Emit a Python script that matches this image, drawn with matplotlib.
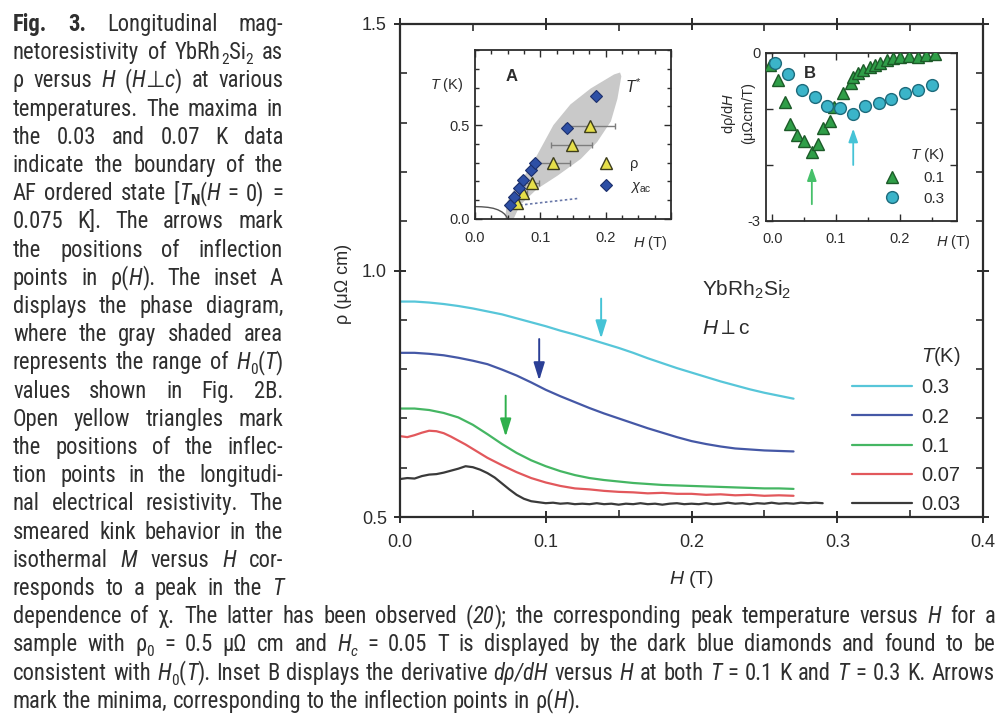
import re
import matplotlib
matplotlib.use("Agg")
import matplotlib.pyplot as plt
from matplotlib import font_manager
from matplotlib.ticker import MultipleLocator, FixedLocator, FixedFormatter, FormatStrFormatter
from matplotlib.transforms import IdentityTransform

# ---------------------------------------------------------------- data
# rho(H) curves, H in tesla, rho in micro-ohm cm
H_SMOOTH = [0.00, 0.01, 0.02, 0.03, 0.04, 0.05, 0.06, 0.07, 0.08, 0.09, 0.10,
            0.11, 0.12, 0.13, 0.14, 0.15, 0.16, 0.17, 0.18, 0.19, 0.20, 0.21,
            0.22, 0.23, 0.24, 0.25, 0.26, 0.27]
RHO_03 = [0.937, 0.937, 0.935, 0.932, 0.928, 0.923, 0.917, 0.911, 0.903, 0.895,
          0.887, 0.878, 0.870, 0.861, 0.852, 0.843, 0.833, 0.822, 0.812, 0.802,
          0.793, 0.784, 0.775, 0.767, 0.759, 0.752, 0.746, 0.740]
RHO_02 = [0.833, 0.833, 0.831, 0.828, 0.823, 0.817, 0.810, 0.799, 0.787, 0.773,
          0.758, 0.745, 0.733, 0.721, 0.710, 0.700, 0.690, 0.680, 0.671, 0.662,
          0.654, 0.648, 0.643, 0.639, 0.637, 0.635, 0.634, 0.633]
RHO_01 = [0.720, 0.720, 0.717, 0.711, 0.702, 0.687, 0.668, 0.648, 0.630, 0.615,
          0.603, 0.593, 0.585, 0.579, 0.575, 0.572, 0.569, 0.567, 0.565, 0.564,
          0.563, 0.562, 0.561, 0.560, 0.559, 0.558, 0.558, 0.557]
H_007 = [0.000, 0.005, 0.010, 0.015, 0.020, 0.025, 0.030, 0.035, 0.040, 0.045,
         0.050, 0.060, 0.070, 0.080, 0.090, 0.100, 0.110, 0.120, 0.130, 0.140,
         0.150, 0.160, 0.170, 0.180, 0.190, 0.200, 0.210, 0.220, 0.230, 0.240,
         0.250, 0.260, 0.270]
RHO_007 = [0.664, 0.662, 0.666, 0.671, 0.675, 0.674, 0.670, 0.663, 0.655, 0.647,
           0.638, 0.620, 0.605, 0.591, 0.579, 0.570, 0.563, 0.558, 0.556, 0.553,
           0.551, 0.550, 0.548, 0.549, 0.547, 0.547, 0.545, 0.546, 0.544, 0.545,
           0.543, 0.544, 0.543]
H_003 = [0.000, 0.005, 0.010, 0.015, 0.020, 0.025, 0.030, 0.035, 0.040, 0.045,
         0.050, 0.055, 0.060, 0.065, 0.070, 0.075, 0.080, 0.085, 0.090, 0.095,
         0.100, 0.105, 0.110, 0.115, 0.120, 0.125, 0.130, 0.135, 0.140, 0.145,
         0.150, 0.155, 0.160, 0.165, 0.170, 0.175, 0.180, 0.185, 0.190, 0.195,
         0.200, 0.205, 0.210, 0.215, 0.220, 0.225, 0.230, 0.235, 0.240, 0.245,
         0.250, 0.255, 0.260, 0.265, 0.270, 0.275, 0.280, 0.285, 0.290]
RHO_003 = [0.577, 0.579, 0.578, 0.583, 0.586, 0.587, 0.590, 0.594, 0.598, 0.603,
           0.601, 0.596, 0.589, 0.580, 0.568, 0.556, 0.545, 0.537, 0.532, 0.530,
           0.528, 0.529, 0.527, 0.528, 0.526, 0.527, 0.526, 0.528, 0.526, 0.527,
           0.525, 0.527, 0.526, 0.528, 0.526, 0.527, 0.525, 0.527, 0.528, 0.526,
           0.527, 0.526, 0.528, 0.526, 0.527, 0.529, 0.527, 0.528, 0.526, 0.528,
           0.527, 0.529, 0.527, 0.528, 0.527, 0.529, 0.528, 0.529, 0.528]

TEMPS = ["0.3", "0.2", "0.1", "0.07", "0.03"]
COLORS = ["#57c6d9", "#4558a6", "#45b663", "#e2585c", "#3a3a3a"]

# inflection-point arrows (H, tail rho, tip rho)
ARROW_H = [0.138, 0.0955, 0.0725]
ARROW_TAIL = [0.943, 0.861, 0.746]
ARROW_TIP = [0.862, 0.777, 0.663]
ARROW_COLORS = ["#45c3d6", "#2b3f96", "#2fb04c"]

# inset A: phase diagram
CHI_H = [0.054, 0.059, 0.067, 0.074, 0.085, 0.092, 0.141, 0.185]
CHI_T = [0.074, 0.119, 0.163, 0.207, 0.260, 0.296, 0.485, 0.655]
INF_H = [0.064, 0.074, 0.087, 0.120, 0.148, 0.176]
INF_T = [0.083, 0.137, 0.190, 0.298, 0.393, 0.495]
INF_ERR = [0.004, 0.006, 0.011, 0.026, 0.031, 0.038]
BAND_H = [0.046, 0.049, 0.060, 0.074, 0.095, 0.120, 0.146, 0.177, 0.213, 0.222,
          0.224, 0.218, 0.208, 0.187, 0.162, 0.126, 0.095, 0.069, 0.059]
BAND_T = [0.000, 0.090, 0.160, 0.220, 0.340, 0.500, 0.610, 0.695, 0.770, 0.780,
          0.760, 0.640, 0.520, 0.410, 0.320, 0.230, 0.160, 0.074, 0.000]
TN_H = [0.000, 0.010, 0.020, 0.028, 0.035, 0.041, 0.045, 0.048, 0.050]
TN_T = [0.066, 0.065, 0.062, 0.057, 0.049, 0.038, 0.027, 0.014, 0.000]
DOT_H = [0.069, 0.159]
DOT_T = [0.074, 0.110]

# inset B: d rho / dH
DER01_H = [-0.004, 0.009, 0.020, 0.028, 0.038, 0.049, 0.062, 0.072, 0.080, 0.090,
           0.097, 0.111, 0.123, 0.127, 0.135, 0.143, 0.153, 0.161, 0.169, 0.180,
           0.190, 0.200, 0.214, 0.229, 0.242, 0.255]
DER01 = [-0.21, -0.48, -0.87, -1.26, -1.46, -1.58, -1.76, -1.63, -1.34, -1.22,
         -0.97, -0.72, -0.53, -0.42, -0.36, -0.30, -0.245, -0.21, -0.17, -0.125,
         -0.095, -0.077, -0.054, -0.077, -0.036, -0.018]
DER03_H = [0.004, 0.025, 0.046, 0.067, 0.086, 0.106, 0.126, 0.146, 0.168, 0.187,
           0.208, 0.229, 0.250]
DER03 = [-0.17, -0.375, -0.66, -0.79, -0.95, -0.98, -1.09, -0.95, -0.90, -0.83,
         -0.72, -0.66, -0.57]
B_ARROW_H = [0.062, 0.127]
B_ARROW_TAIL = [-2.70, -2.00]
B_ARROW_TIP = [-2.04, -1.35]

CAPTION_COLUMN = [
    "{b:Fig.} {b:3.} Longitudinal mag-",
    "netoresistivity of YbRh{s:2}Si{s:2} as",
    "ρ versus {i:H} ({i:H}⊥{i:c}) at various",
    "temperatures. The maxima in",
    "the 0.03 and 0.07 K data",
    "indicate the boundary of the",
    "AF ordered state [{i:T}{sb:N}({i:H} = 0) =",
    "0.075 K]. The arrows mark",
    "the positions of inflection",
    "points in ρ({i:H}). The inset A",
    "displays the phase diagram,",
    "where the gray shaded area",
    "represents the range of {i:H}{s:0}({i:T})",
    "values shown in Fig. 2B.",
    "Open yellow triangles mark",
    "the positions of the inflec-",
    "tion points in the longitudi-",
    "nal electrical resistivity. The",
    "smeared kink behavior in the",
    "isothermal {i:M} versus {i:H} cor-",
    "responds to a peak in the {i:T}",
]
CAPTION_WIDE = [
    "dependence of χ. The latter has been observed ({i:20}); the corresponding peak temperature versus {i:H} for a",
    "sample with ρ{s:0} = 0.5 μΩ cm and {i:H}{si:c} = 0.05 T is displayed by the dark blue diamonds and found to be",
    "consistent with {i:H}{s:0}({i:T}). Inset B displays the derivative {i:dρ/dH} versus {i:H} at both {i:T} = 0.1 K and {i:T} = 0.3 K. Arrows",
    "mark the minima, corresponding to the inflection points in ρ({i:H}).",
]

# ---------------------------------------------------------------- style
plt.rcParams["font.family"] = ["Liberation Sans", "DejaVu Sans"]
plt.rcParams["mathtext.fontset"] = "custom"
plt.rcParams["mathtext.rm"] = "Liberation Sans"
plt.rcParams["mathtext.it"] = "Liberation Sans:italic"
plt.rcParams["mathtext.bf"] = "Liberation Sans:bold"

AVAILABLE = {f.name for f in font_manager.fontManager.ttflist}
CAP_FONT, CAP_FS = "Liberation Sans", 13.5
for name, size in [("Roboto Condensed", 16.3), ("Liberation Sans Narrow", 16.0),
                   ("Open Sans Condensed", 15.5)]:
    if name in AVAILABLE:
        CAP_FONT, CAP_FS = name, size
        break
CAP_FAMILY = [CAP_FONT, "DejaVu Sans"]
CAP_COLOR = "#2f2f2f"
INK = "#2c2c2c"

W, H = 999, 719
fig = plt.figure(figsize=(W / 100, H / 100), dpi=100, facecolor="white")
IDT = IdentityTransform()


def box(l, t, r, b):
    return [l / W, 1 - b / H, (r - l) / W, (b - t) / H]


def px(x, y):
    return x, H - y


# ---------------------------------------------------------------- main panel
ax = fig.add_axes(box(400, 24, 983, 517))
series = [(H_SMOOTH, RHO_03), (H_SMOOTH, RHO_02), (H_SMOOTH, RHO_01),
          (H_007, RHO_007), (H_003, RHO_003)]
handles = []
for (hh, rr), col, lab in zip(series, COLORS, TEMPS):
    ln, = ax.plot(hh, rr, color=col, lw=1.6, label=lab, solid_capstyle="round")
    handles.append(ln)

for h, t0, t1, c in zip(ARROW_H, ARROW_TAIL, ARROW_TIP, ARROW_COLORS):
    ax.annotate("", xy=(h, t1), xytext=(h, t0),
                arrowprops=dict(arrowstyle="-|>,head_length=0.9,head_width=0.28",
                                color=c, lw=1.4, shrinkA=0, shrinkB=0,
                                mutation_scale=12))

ax.set_xlim(0, 0.4)
ax.set_ylim(0.5, 1.5)
ax.xaxis.set_major_locator(MultipleLocator(0.1))
ax.xaxis.set_minor_locator(MultipleLocator(0.05))
ax.yaxis.set_major_locator(MultipleLocator(0.5))
ax.yaxis.set_minor_locator(MultipleLocator(0.1))
ax.xaxis.set_major_formatter(FormatStrFormatter("%.1f"))
ax.yaxis.set_major_formatter(FormatStrFormatter("%.1f"))
ax.tick_params(which="major", direction="inout", length=9, width=1.4,
               top=True, right=True, labelsize=13, pad=5, colors=INK)
ax.tick_params(which="minor", direction="in", length=5, width=1.2,
               top=True, right=True, colors=INK)
ax.tick_params(axis="x", which="major", pad=8)
for s in ax.spines.values():
    s.set_linewidth(1.6)
    s.set_color(INK)

fig.text(*px(692, 580), "$H$ (T)", transform=IDT, ha="center", va="center",
         fontsize=14, color=INK)
fig.text(*px(343, 284), "ρ (μΩ cm)", transform=IDT, ha="center", va="center",
         rotation=90, fontsize=13, color=INK)
ax.text(0.207, 0.960, "YbRh$_2$Si$_2$", fontsize=15, color=INK, va="center")
ax.text(0.207, 0.883, r"$H\perp$c", fontsize=15, color=INK, va="center")

leg = ax.legend(handles=handles, title="$T$(K)", loc="upper left",
                bbox_to_anchor=(852, H - 345), bbox_transform=IDT,
                frameon=False, fontsize=14.5, title_fontsize=14.5,
                handlelength=3.0, handletextpad=0.45, labelspacing=0.51,
                borderpad=0, borderaxespad=0, alignment="right")
for t in leg.get_texts():
    t.set_color(INK)
leg.get_title().set_color(INK)

# ---------------------------------------------------------------- inset A
axa = fig.add_axes(box(475, 50, 671, 219))
axa.fill(BAND_H, BAND_T, color="#c9c9c9", lw=0, zorder=1)
axa.plot(TN_H, TN_T, color="#555555", lw=1.0, zorder=2)
axa.plot(DOT_H, DOT_T, color="#6877a8", lw=1.2, ls=(0, (1.5, 1.5)), zorder=2)
axa.errorbar(INF_H, INF_T, xerr=INF_ERR, fmt="none", ecolor="#7d7d7d",
             elinewidth=1.0, capsize=2.5, capthick=1.0, zorder=3)
tri, = axa.plot(INF_H, INF_T, "^", ms=8, mfc="#e6df4a", mec="#3d3d1c", mew=1.0,
                ls="none", zorder=4)
dia, = axa.plot(CHI_H, CHI_T, "D", ms=6.5, mfc="#2d4fa5", mec="#1b2f6c", mew=0.8,
                ls="none", zorder=5)
axa.set_xlim(0, 0.3)
axa.set_ylim(0, 0.9)
axa.xaxis.set_major_locator(FixedLocator([0, 0.1, 0.2, 0.3]))
axa.xaxis.set_major_formatter(FixedFormatter(["0.0", "0.1", "0.2", ""]))
axa.xaxis.set_minor_locator(MultipleLocator(0.025))
axa.yaxis.set_major_locator(FixedLocator([0, 0.5]))
axa.yaxis.set_major_formatter(FixedFormatter(["0.0", "0.5"]))
axa.yaxis.set_minor_locator(MultipleLocator(0.1))
axa.tick_params(which="both", direction="in", top=True, right=True,
                labelsize=10.5, colors=INK, width=1.0)
axa.tick_params(which="major", length=5)
axa.tick_params(which="minor", length=3)
axa.tick_params(axis="x", pad=9)
axa.tick_params(axis="y", pad=4)
for s in axa.spines.values():
    s.set_linewidth(1.3)
    s.set_color(INK)
axa.text(0.056, 0.758, "A", fontsize=12, fontweight="bold", color=INK,
         ha="center", va="center")
axa.text(0.242, 0.705, "$T^{*}$", fontsize=11.5, color=INK, ha="center", va="center")
axa.text(-0.043, 0.714, "$T$ (K)", fontsize=10.5, color=INK, ha="center",
         va="center", clip_on=False)
axa.text(0.268, -0.128, "$H$ (T)", fontsize=10.5, color=INK, ha="center",
         va="center", clip_on=False)
lega = axa.legend([tri, dia], ["ρ", r"$\chi_{\mathrm{ac}}$"], loc="upper left",
                  bbox_to_anchor=(599, H - 157), bbox_transform=IDT,
                  frameon=False, fontsize=10.5, handlelength=1.0,
                  handletextpad=1.1, labelspacing=0.55, borderpad=0,
                  borderaxespad=0)
for t in lega.get_texts():
    t.set_color(INK)

# ---------------------------------------------------------------- inset B
axb = fig.add_axes(box(766, 53, 957, 221))
g, = axb.plot(DER01_H, DER01, "^", ms=8, mfc="#2f9e48", mec="#1c5a28", mew=1.0,
              ls="none", zorder=3)
c, = axb.plot(DER03_H, DER03, "o", ms=8.5, mfc="#3bb4c9", mec="#1d6b7c", mew=1.0,
              ls="none", zorder=4)
for h, t0, t1, col in zip(B_ARROW_H, B_ARROW_TAIL, B_ARROW_TIP,
                          ["#46c06a", "#45c3d6"]):
    axb.annotate("", xy=(h, t1), xytext=(h, t0),
                 arrowprops=dict(arrowstyle="-|>,head_length=0.8,head_width=0.28",
                                 color=col, lw=1.3, shrinkA=0, shrinkB=0,
                                 mutation_scale=10))
axb.set_xlim(-0.01, 0.29)
axb.set_ylim(-3, 0)
axb.xaxis.set_major_locator(FixedLocator([0, 0.1, 0.2]))
axb.xaxis.set_major_formatter(FixedFormatter(["0.0", "0.1", "0.2"]))
axb.xaxis.set_minor_locator(MultipleLocator(0.05))
axb.yaxis.set_major_locator(FixedLocator([-3, -2, -1, 0]))
axb.yaxis.set_major_formatter(FixedFormatter(["-3", "", "", "0"]))
axb.tick_params(which="both", direction="in", top=True, right=True,
                labelsize=10.5, colors=INK, width=1.0)
axb.tick_params(which="major", length=5)
axb.tick_params(which="minor", length=3)
axb.tick_params(axis="x", pad=8)
axb.tick_params(axis="y", pad=4)
for s in axb.spines.values():
    s.set_linewidth(1.3)
    s.set_color(INK)
axb.text(0.059, -0.36, "B", fontsize=12, fontweight="bold", color=INK,
         ha="center", va="center")
fig.text(*px(953, 242), "$H$ (T)", transform=IDT, fontsize=10.5, color=INK,
         ha="center", va="center")
fig.text(*px(729, 113), "dρ/d$H$", transform=IDT, fontsize=10.5, color=INK,
         ha="center", va="center", rotation=90)
fig.text(*px(748, 113), "(μΩcm/T)", transform=IDT, fontsize=10.5, color=INK,
         ha="center", va="center", rotation=90)
legb = axb.legend([g, c], ["0.1", "0.3"], title="$T$ (K)", loc="upper left",
                  bbox_to_anchor=(884, H - 146), bbox_transform=IDT,
                  frameon=False, fontsize=11, title_fontsize=11,
                  handlelength=1.0, handletextpad=1.6, labelspacing=0.45,
                  borderpad=0, borderaxespad=0, alignment="right")
for t in legb.get_texts():
    t.set_color(INK)
legb.get_title().set_color(INK)

# ---------------------------------------------------------------- caption
renderer = fig.canvas.get_renderer()
STYLES = {"n": ("normal", "normal", 1.0, 0.0),
          "i": ("italic", "normal", 1.0, 0.0),
          "b": ("normal", "bold", 1.0, 0.0),
          "s": ("normal", "normal", 0.68, -0.22),
          "si": ("italic", "normal", 0.68, -0.22),
          "sb": ("normal", "bold", 0.68, -0.22)}
SEG = re.compile(r"\{(\w+):([^}]*)\}|([^{]+)")


def make_word(word):
    parts, x = [], 0.0
    for m in SEG.finditer(word):
        if m.group(3) is not None:
            txt, st = m.group(3), "n"
        else:
            txt, st = m.group(2), m.group(1)
        fst, fw, sc, dy = STYLES[st]
        t = fig.text(0, 0, txt, transform=IDT, fontsize=CAP_FS * sc,
                     fontstyle=fst, fontweight=fw, family=CAP_FAMILY,
                     color=CAP_COLOR, ha="left", va="baseline")
        parts.append((t, x, dy * CAP_FS * 100 / 72))
        x += t.get_window_extent(renderer).width
    return parts, x


def measure(s):
    t = fig.text(0, 0, s, transform=IDT, fontsize=CAP_FS, family=CAP_FAMILY)
    w = t.get_window_extent(renderer).width
    t.remove()
    return w


SPACE = measure("n n") - measure("nn")


def set_line(line, x0, x1, y_base, justify=True):
    words = [make_word(w) for w in line.split(" ")]
    total = sum(w for _, w in words)
    gap = (x1 - x0 - total) / (len(words) - 1) if justify and len(words) > 1 else SPACE
    x = x0
    for parts, w in words:
        for t, dx, dy in parts:
            t.set_position((x + dx, H - y_base + dy))
        x += w + gap


LINE_STEP = 28.2
FIRST = 25 + 6
for i, line in enumerate(CAPTION_COLUMN):
    set_line(line, 13, 283, FIRST + LINE_STEP * i)
for j, line in enumerate(CAPTION_WIDE):
    k = len(CAPTION_COLUMN) + j
    set_line(line, 13, 995, FIRST + LINE_STEP * k,
             justify=(j < len(CAPTION_WIDE) - 1))

fig.savefig("out.png", dpi=100, facecolor="white")
